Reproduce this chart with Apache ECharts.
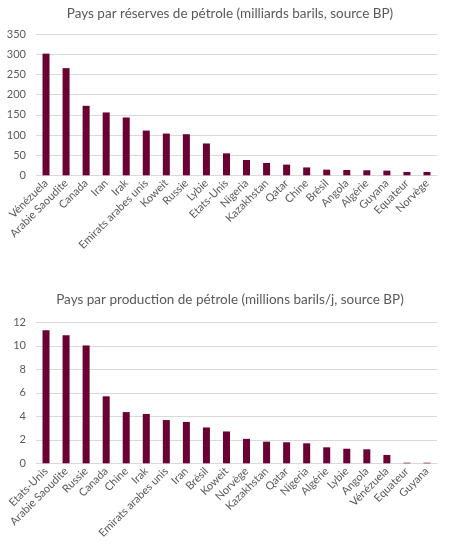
<!DOCTYPE html>
<html>
<head>
<meta charset="utf-8">
<script src="https://cdn.jsdelivr.net/npm/echarts@6/dist/echarts.min.js"></script>
<style>
html,body{margin:0;padding:0;background:#fff;}
#main{width:460px;height:548px;}
</style>
</head>
<body>
<div id="main"></div>
<script>
const reserveCountries = ["Vénézuela","Arabie Saoudite","Canada","Iran","Irak","Emirats arabes unis","Koweit","Russie","Lybie","Etats-Unis","Nigeria","Kazakhstan","Qatar","Chine","Brésil","Angola","Algérie","Guyana","Equateur","Norvège"];
const reserveValues = [302,266,172.5,156,143.5,111,103.6,102,79,54.5,38,30.6,26.5,19.5,14,13.2,12.4,11.6,8.3,8.3];
const productionCountries = ["Etats-Unis","Arabie Saoudite","Russie","Canada","Chine","Irak","Emirats arabes unis","Iran","Brésil","Koweit","Norvège","Kazakhstan","Qatar","Nigeria","Algérie","Lybie","Angola","Vénézuela","Equateur","Guyana"];
const productionValues = [11.32,10.89,10.03,5.70,4.36,4.20,3.68,3.52,3.05,2.71,2.08,1.84,1.79,1.70,1.36,1.24,1.19,0.71,0.05,0.05];
const reserveTicks = [0,350,50];
const productionTicks = [0,12,2];

const FONT = "Lato";
const GRAY = "#595959";
const LINE = "#d9d9d9";
const BAR = "#6b0032";

function xAxisFor(cats, gi){
  return {
    type:'category', gridIndex:gi, data:cats,
    axisTick:{show:false},
    axisLine:{lineStyle:{color:LINE,width:1}},
    axisLabel:{rotate:45, interval:0, color:GRAY, fontFamily:FONT, fontSize:11, margin:6}
  };
}
function yAxisFor(t, gi){
  return {
    type:'value', gridIndex:gi, min:t[0], max:t[1], interval:t[2],
    axisLine:{show:false}, axisTick:{show:false},
    splitLine:{lineStyle:{color:LINE,width:1}},
    axisLabel:{color:GRAY, fontFamily:FONT, fontSize:11, margin:10}
  };
}
const chart = echarts.init(document.getElementById('main'), null, {renderer:'canvas'});
chart.setOption({
  animation:false,
  backgroundColor:'#fff',
  title:[
    {text:"Pays par réserves de pétrole (milliards barils, source BP)", left:'center', top:2,
     textStyle:{color:GRAY, fontFamily:FONT, fontSize:13.5, fontWeight:'normal'}},
    {text:"Pays par production de pétrole (millions barils/j, source BP)", left:'center', top:288,
     textStyle:{color:GRAY, fontFamily:FONT, fontSize:13.5, fontWeight:'normal'}}
  ],
  grid:[
    {left:36, right:23, top:34.3, height:141},
    {left:36, right:23, top:322.3, height:141}
  ],
  xAxis:[xAxisFor(reserveCountries,0), xAxisFor(productionCountries,1)],
  yAxis:[yAxisFor(reserveTicks,0), yAxisFor(productionTicks,1)],
  series:[
    {type:'bar', xAxisIndex:0, yAxisIndex:0, data:reserveValues, barWidth:7, itemStyle:{color:BAR}},
    {type:'bar', xAxisIndex:1, yAxisIndex:1, data:productionValues, barWidth:7, itemStyle:{color:BAR}}
  ]
});
</script>
</body>
</html>
